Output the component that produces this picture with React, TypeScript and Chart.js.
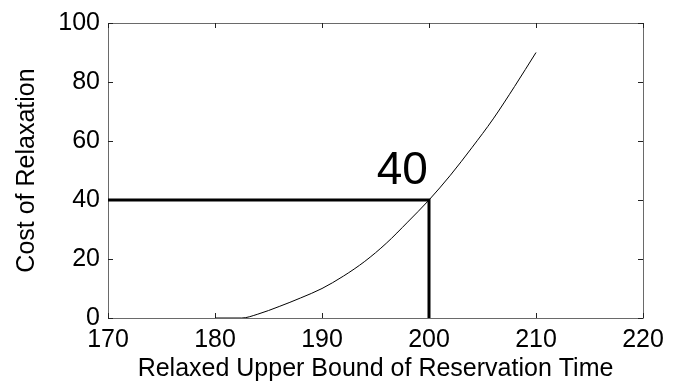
import React, { useEffect, useRef } from "react";
import { Chart, registerables } from "chart.js";

Chart.register(...registerables);

// Curve: cost of relaxation vs relaxed upper bound
const curveX = [180, 182.5, 184, 186, 188, 190, 192, 194, 196, 198, 200, 202, 204, 206, 208, 210];
const curveY = [0, 0, 1.3, 3.9, 6.8, 10.0, 14.2, 19.2, 25.3, 32.5, 40, 48.4, 57.7, 67.5, 78.5, 90];

// Guide lines marking the point (200, 40)
const guideX = [170, 200, 200];
const guideY = [40, 40, 0];

const xTicks = [170, 180, 190, 200, 210, 220];
const yTicks = [0, 20, 40, 60, 80, 100];

const annotationText = "40";
const annotationX = 197.5;
const annotationY = 45.3;

const xTitle = "Relaxed Upper Bound of Reservation Time";
const yTitle = "Cost of Relaxation";

const FONT = "Arial, 'Liberation Sans', Helvetica, sans-serif";

const framePlugin = {
  id: "matlabFrame",
  beforeDatasetsDraw(chart: any) {
    const { ctx, chartArea } = chart;
    const { left, right, top, bottom } = chartArea;
    const xs = chart.scales.x;
    const ys = chart.scales.y;
    ctx.save();
    ctx.strokeStyle = "#6a6a6a";
    ctx.lineWidth = 1;
    ctx.beginPath();
    ctx.rect(Math.round(left) + 0.5, Math.round(top) + 0.5, Math.round(right - left), Math.round(bottom - top));
    ctx.stroke();
    ctx.strokeStyle = "#222";
    ctx.beginPath();
    const tl = 5;
    for (const v of xTicks) {
      const px = Math.round(xs.getPixelForValue(v)) + 0.5;
      ctx.moveTo(px, bottom);
      ctx.lineTo(px, bottom - tl);
      ctx.moveTo(px, top);
      ctx.lineTo(px, top + tl);
    }
    for (const v of yTicks) {
      const py = Math.round(ys.getPixelForValue(v)) + 0.5;
      ctx.moveTo(left, py);
      ctx.lineTo(left + tl, py);
      ctx.moveTo(right, py);
      ctx.lineTo(right - tl, py);
    }
    ctx.stroke();
    ctx.restore();
  },
  afterDatasetsDraw(chart: any) {
    const { ctx } = chart;
    const xs = chart.scales.x;
    const ys = chart.scales.y;
    ctx.save();
    ctx.fillStyle = "#000";
    ctx.font = `46px ${FONT}`;
    ctx.textAlign = "center";
    ctx.textBaseline = "alphabetic";
    ctx.fillText(annotationText, xs.getPixelForValue(annotationX), ys.getPixelForValue(annotationY));
    ctx.restore();
  },
};

export default function App() {
  const ref = useRef<HTMLCanvasElement | null>(null);

  useEffect(() => {
    document.body.style.margin = "0";
    const canvas = ref.current;
    if (!canvas) return;
    const chart = new Chart(canvas, {
      type: "scatter",
      data: {
        datasets: [
          {
            data: curveX.map((x, i) => ({ x, y: curveY[i] })),
            showLine: true,
            borderColor: "#000",
            borderWidth: 1,
            pointRadius: 0,
            cubicInterpolationMode: "monotone",
          },
          {
            data: guideX.map((x, i) => ({ x, y: guideY[i] })),
            showLine: true,
            borderColor: "#000",
            borderWidth: 3,
            pointRadius: 0,
            tension: 0,
          },
        ],
      },
      options: {
        animation: false,
        responsive: false,
        devicePixelRatio: 1,
        layout: { padding: { left: 0, right: 32, top: 20, bottom: 0 } },
        plugins: {
          legend: { display: false },
          tooltip: { enabled: false },
        },
        scales: {
          x: {
            type: "linear",
            min: 170,
            max: 220,
            afterBuildTicks: (s: any) => {
              s.ticks = xTicks.map((v) => ({ value: v }));
            },
            afterFit: (s: any) => {
              s.height = 64;
            },
            grid: { display: false, drawTicks: false },
            border: { display: false },
            ticks: {
              autoSkip: false,
              maxRotation: 0,
              color: "#000",
              padding: 7,
              font: { family: FONT, size: 25 },
            },
            title: {
              display: true,
              text: xTitle,
              color: "#000",
              padding: { top: 0, bottom: 0 },
              font: { family: FONT, size: 25, lineHeight: 1 },
            },
          },
          y: {
            type: "linear",
            min: 0,
            max: 100,
            afterBuildTicks: (s: any) => {
              s.ticks = yTicks.map((v) => ({ value: v }));
            },
            afterFit: (s: any) => {
              s.width = 108;
            },
            grid: { display: false, drawTicks: false },
            border: { display: false },
            ticks: {
              autoSkip: false,
              color: "#000",
              padding: 8,
              font: { family: FONT, size: 25 },
            },
            title: {
              display: true,
              text: yTitle,
              color: "#000",
              padding: { top: 12, bottom: 0 },
              font: { family: FONT, size: 25 },
            },
          },
        },
      },
      plugins: [framePlugin],
    } as any);
    return () => chart.destroy();
  }, []);

  return (
    <div style={{ position: "absolute", left: 0, top: 0, width: 675, height: 382, background: "#fff" }}>
      <canvas ref={ref} width={675} height={382} />
    </div>
  );
}
